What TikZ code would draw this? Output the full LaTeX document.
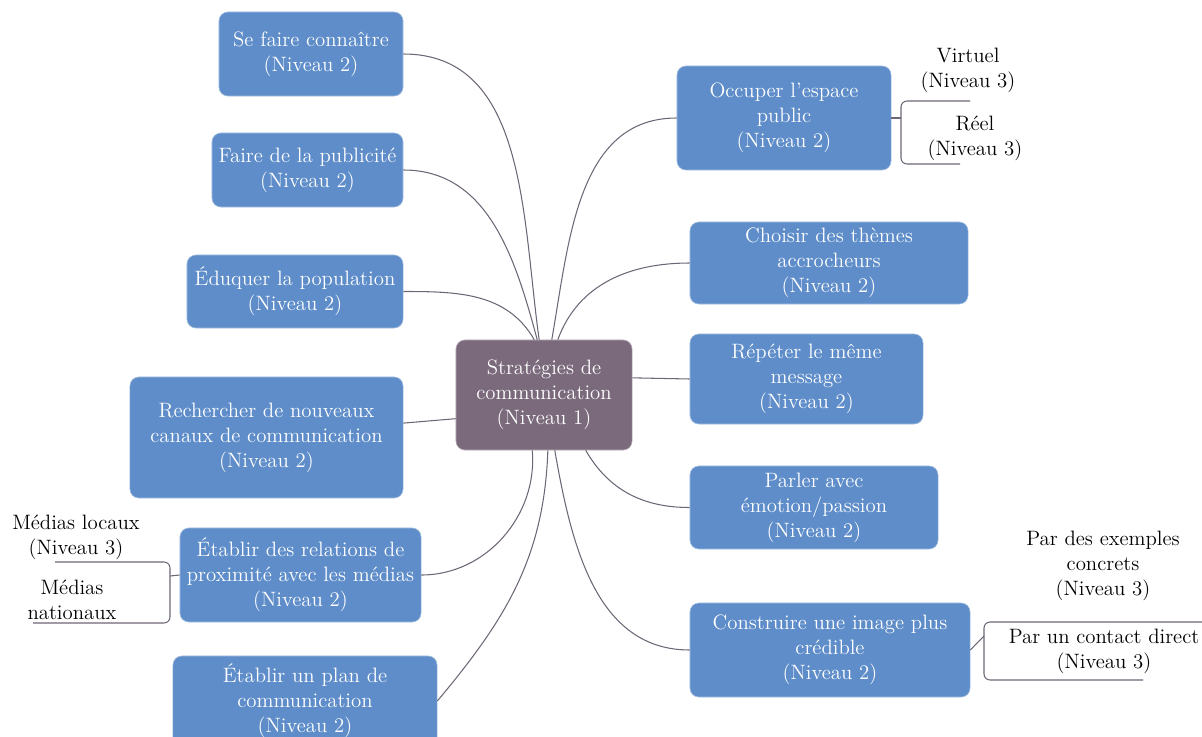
\documentclass[tikz,border=0pt]{standalone}
\usepackage{fontspec}
\definecolor{boxblue}{RGB}{94,141,201}
\definecolor{rootgray}{RGB}{122,106,124}
\definecolor{linkgray}{RGB}{110,102,118}
\tikzset{
  txt/.style={font=\fontsize{14.8}{17.8}\selectfont, align=center, inner sep=0},
  lvl1/.style={txt, fill=rootgray, draw=rootgray!55!white, rounded corners=0.22cm, text=white},
  lvl2/.style={txt, fill=boxblue, draw=boxblue!55!white, rounded corners=0.22cm, text=white},
  lvl3/.style={txt, text=black},
  link/.style={linkgray, line width=0.75pt},
  fork/.style={linkgray, line width=0.75pt, rounded corners=0.15cm},
}
\begin{document}
\begin{tikzpicture}[x=0.025cm, y=-0.025cm]
\useasboundingbox (0,0) rectangle (1202,736);

% centre
\node[lvl1, minimum width=4.4cm, minimum height=2.75cm] (root) at (544,395) {Stratégies de\\communication\\(Niveau 1)};

% left branch
\node[lvl2, minimum width=4.6cm, minimum height=2.1cm] (conn) at (311,54) {Se faire connaître\\(Niveau 2)};
\node[lvl2, minimum width=4.775cm, minimum height=1.85cm] (pub) at (307.5,170) {Faire de la publicité\\(Niveau 2)};
\node[lvl2, minimum width=5.4cm, minimum height=1.825cm] (edu) at (295,291.5) {Éduquer la population\\(Niveau 2)};
\node[lvl2, minimum width=6.825cm, minimum height=3.025cm] (rech) at (266.5,437.5) {Rechercher de nouveaux\\canaux de communication\\(Niveau 2)};
\node[lvl2, minimum width=6.025cm, minimum height=2.35cm] (rel) at (300.5,575) {Établir des relations de\\proximité avec les médias\\(Niveau 2)};
\node[lvl2, minimum width=6.6cm, minimum height=2.25cm] (plan) at (305,701) {Établir un plan de\\communication\\(Niveau 2)};

% right branch
\node[lvl2, minimum width=5.35cm, minimum height=2.6cm] (occ) at (784,118) {Occuper l’espace\\public\\(Niveau 2)};
\node[lvl2, minimum width=6.95cm, minimum height=2.05cm] (them) at (829,263) {Choisir des thèmes\\accrocheurs\\(Niveau 2)};
\node[lvl2, minimum width=5.825cm, minimum height=2.25cm] (rep) at (806.5,379) {Répéter le même\\message\\(Niveau 2)};
\node[lvl2, minimum width=6.2cm, minimum height=2.075cm] (emo) at (814,507.5) {Parler avec\\émotion/passion\\(Niveau 2)};
\node[lvl2, minimum width=7cm, minimum height=2.35cm] (img) at (830,650) {Construire une image plus\\crédible\\(Niveau 2)};

% level 3
\node[lvl3] (virt) at (968,70) {Virtuel\\(Niveau 3)};
\node[lvl3] (reel) at (975,138) {Réel\\(Niveau 3)};
\node[lvl3] (loc) at (76,537) {Médias locaux\\(Niveau 3)};
\node[lvl3] (nat) at (72,600) {Médias\\nationaux};
\node[lvl3] (ex) at (1103,566) {Par des exemples\\concrets\\(Niveau 3)};
\node[lvl3] (dir) at (1104,651) {Par un contact direct\\(Niveau 3)};

% links to the centre
\draw[link] (conn.east) to[out=0, in=98] (root.95);
\draw[link] (pub.east) to[out=0, in=105] (root.97);
\draw[link] (edu.east) to[out=0, in=120] (root.100);
\draw[link] (rech.6) -- (root.195);
\draw[link] (rel.east) to[out=0, in=-85] (root.258);
\draw[link] (plan.east) to[out=50, in=-92] (root.274);
\draw[link] (occ.west) to[out=180, in=80] (root.82);
\draw[link] (them.west) to[out=180, in=70] (root.76);
\draw[link] (rep.west) -- (root.11);
\draw[link] (emo.west) to[out=180, in=-60] (root.307);
\draw[link] (img.west) to[out=180, in=-80] (root.281);

% brackets
\coordinate (f1) at (901,118);
\coordinate (v1) at (970,101);
\coordinate (r1) at (960,164);
\draw[link] (occ.east) -- (f1);
\draw[fork] (v1) -| (f1) |- (r1);

\coordinate (f2) at (170,576);
\coordinate (l2) at (55,562);
\coordinate (n2) at (33,623);
\draw[link] (rel.west) -- (f2);
\draw[fork] (l2) -| (f2) |- (n2);

\coordinate (f3) at (984,636);
\coordinate (e3) at (1202,622);
\coordinate (d3) at (1143,680);
\draw[link] (img.east) -- (f3);
\draw[fork] (e3) -| (f3) |- (d3);
\end{tikzpicture}
\end{document}
